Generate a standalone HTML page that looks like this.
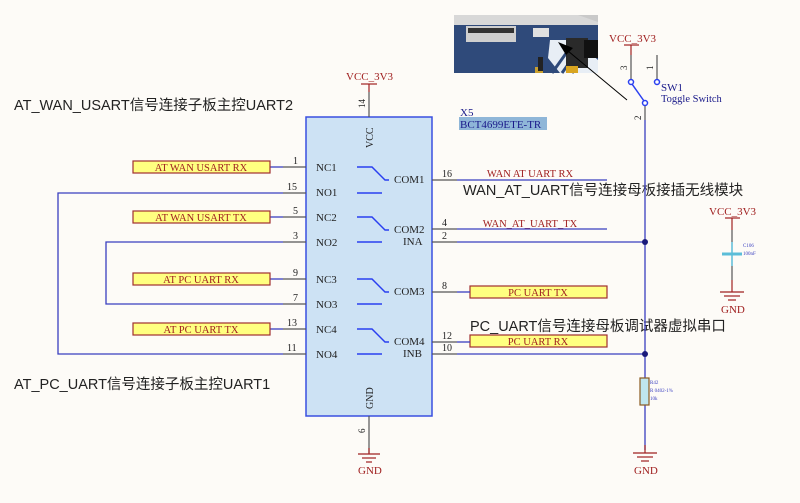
<!DOCTYPE html>
<html><head><meta charset="utf-8"><style>
html,body{margin:0;padding:0;background:#fdfbf7;}
svg{display:block;}
.s{font-family:"Liberation Serif","Noto Serif CJK SC",serif;}
.z{font-family:"Liberation Sans","Noto Sans CJK SC",sans-serif;}
</style></head><body>
<svg width="800" height="503" viewBox="0 0 800 503" xmlns="http://www.w3.org/2000/svg">
<rect width="800" height="503" fill="#fdfbf7"/>

<!-- photo -->
<g>
<rect x="454" y="15" width="144" height="58" fill="#2f4a7a"/>
<rect x="454" y="15" width="144" height="10" fill="#d8d8d8"/>
<polygon points="578,15 598,15 598,22" fill="#c9c9c9"/>
<rect x="466" y="26" width="50" height="16" fill="#cfcfcf"/>
<rect x="468" y="28" width="46" height="5" fill="#333"/>
<rect x="533" y="28" width="16" height="9" fill="#e0e0e0"/>
<polygon points="550,40 575,40 598,60 598,73 560,73 548,58" fill="#e8eef5"/>
<g stroke="#2f4a7a" stroke-width="3">
<line x1="552" y1="73" x2="572" y2="45"/><line x1="562" y1="73" x2="582" y2="45"/><line x1="572" y1="73" x2="592" y2="45"/>
</g>
<rect x="566" y="38" width="22" height="30" fill="#2a2a2a"/>
<rect x="584" y="40" width="14" height="18" fill="#111"/>
<rect x="566" y="66" width="12" height="7" fill="#d9a520"/>
<rect x="535" y="67" width="8" height="6" fill="#c9a030"/>
<rect x="538" y="57" width="5" height="14" fill="#222"/>
</g>
<line x1="627" y1="100" x2="562" y2="46" stroke="#000" stroke-width="1"/>
<polygon points="558,42 573,48 566,55" fill="#000"/>

<!-- texts -->
<text class="z" x="14" y="110" font-size="14.5" fill="#222">AT_WAN_USART信号连接子板主控UART2</text>
<text class="z" x="14" y="389" font-size="14.5" fill="#222">AT_PC_UART信号连接子板主控UART1</text>
<text class="z" x="463" y="195" font-size="14.5" fill="#222">WAN_AT_UART信号连接母板接插无线模块</text>
<text class="z" x="470" y="331" font-size="14.5" fill="#222">PC_UART信号连接母板调试器虚拟串口</text>

<!-- chip -->
<rect x="306" y="117" width="126" height="299" fill="#cde2f4" stroke="#3a4fe0" stroke-width="1.5"/>
<text class="s" x="460" y="116" font-size="11" fill="#1a1a8a">X5</text>
<rect x="459" y="117" width="88" height="13" fill="#8fb6d8"/>
<text class="s" x="460" y="128" font-size="11" fill="#1a1a8a">BCT4699ETE-TR</text>
<text class="s" x="0" y="0" font-size="10" fill="#222" transform="translate(373,148) rotate(-90)">VCC</text>
<text class="s" x="0" y="0" font-size="10" fill="#222" transform="translate(373,409) rotate(-90)">GND</text>

<!-- VCC top -->
<line x1="369" y1="92" x2="369" y2="117" stroke="#555" stroke-width="1.2"/>
<line x1="361" y1="84" x2="377" y2="84" stroke="#a02020" stroke-width="1.2"/>
<line x1="369" y1="84" x2="369" y2="92" stroke="#a02020" stroke-width="1.2"/>
<text class="s" x="346" y="80" font-size="11" fill="#a02020">VCC_3V3</text>
<text class="s" x="0" y="0" font-size="9" fill="#222" transform="translate(365,108) rotate(-90)">14</text>
<!-- GND bottom -->
<line x1="369" y1="416" x2="369" y2="453" stroke="#555" stroke-width="1.2"/>
<text class="s" x="0" y="0" font-size="9" fill="#222" transform="translate(365,433) rotate(-90)">6</text>
<g stroke="#a02020" stroke-width="1.2">
<line x1="369" y1="448" x2="369" y2="454"/>
<line x1="358" y1="454" x2="380" y2="454"/><line x1="362" y1="458" x2="376" y2="458"/><line x1="366" y1="462" x2="372" y2="462"/>
</g>
<text class="s" x="358" y="474" font-size="11" fill="#a02020">GND</text>

<!-- left pins -->
<g stroke="#555" stroke-width="1.2">
<line x1="283" y1="167" x2="306" y2="167"/><line x1="283" y1="193" x2="306" y2="193"/>
<line x1="283" y1="217" x2="306" y2="217"/><line x1="283" y1="242" x2="306" y2="242"/>
<line x1="283" y1="279" x2="306" y2="279"/><line x1="283" y1="304" x2="306" y2="304"/>
<line x1="283" y1="329" x2="306" y2="329"/><line x1="283" y1="354" x2="306" y2="354"/>
</g>
<g stroke="#3a3fc0" stroke-width="1.3" fill="none">
<line x1="270" y1="167" x2="283" y2="167"/><line x1="270" y1="217" x2="283" y2="217"/>
<line x1="270" y1="279" x2="283" y2="279"/><line x1="270" y1="329" x2="283" y2="329"/>
<polyline points="283,193 58,193 58,354 283,354"/>
<polyline points="283,242 106,242 106,304 283,304"/>
</g>
<g class="s" font-size="10" fill="#222">
<text x="293" y="164">1</text><text x="287" y="190">15</text><text x="293" y="214">5</text><text x="293" y="239">3</text>
<text x="293" y="276">9</text><text x="293" y="301">7</text><text x="287" y="326">13</text><text x="287" y="351">11</text>
</g>
<g class="s" font-size="11" fill="#222">
<text x="316" y="171">NC1</text><text x="316" y="196">NO1</text><text x="316" y="221">NC2</text><text x="316" y="246">NO2</text>
<text x="316" y="283">NC3</text><text x="316" y="308">NO3</text><text x="316" y="333">NC4</text><text x="316" y="358">NO4</text>
<text x="394" y="183">COM1</text><text x="394" y="233">COM2</text><text x="403" y="245">INA</text>
<text x="394" y="295">COM3</text><text x="394" y="345">COM4</text><text x="403" y="357">INB</text>
</g>
<!-- switches -->
<g stroke="#2a3ff0" stroke-width="1.5" fill="none">
<polyline points="357,167 372,167 385,180 389,180"/><line x1="357" y1="193" x2="382" y2="193"/>
<polyline points="357,217 372,217 385,230 389,230"/><line x1="357" y1="242" x2="382" y2="242"/>
<polyline points="357,279 372,279 385,292 389,292"/><line x1="357" y1="304" x2="382" y2="304"/>
<polyline points="357,329 372,329 385,342 389,342"/><line x1="357" y1="354" x2="382" y2="354"/>
</g>

<!-- left labels -->
<g stroke="#a03030" stroke-width="1.2" fill="#ffff80">
<rect x="133" y="161" width="137" height="12"/><rect x="133" y="211" width="137" height="12"/>
<rect x="133" y="273" width="137" height="12"/><rect x="133" y="323" width="137" height="12"/>
<rect x="470" y="286" width="137" height="12"/><rect x="470" y="335" width="137" height="12"/>
</g>
<g class="s" font-size="10.5" fill="#a02020" text-anchor="middle">
<text x="201" y="171">AT WAN USART RX</text><text x="201" y="221">AT WAN USART TX</text>
<text x="201" y="283">AT PC UART RX</text><text x="201" y="333">AT PC UART TX</text>
<text x="538" y="296">PC UART TX</text><text x="538" y="345">PC UART RX</text>
<text x="530" y="177">WAN AT UART RX</text><text x="530" y="227">WAN_AT_UART_TX</text>
</g>

<!-- right pins -->
<g stroke="#555" stroke-width="1.2">
<line x1="432" y1="180" x2="457" y2="180"/><line x1="432" y1="229" x2="457" y2="229"/>
<line x1="432" y1="242" x2="457" y2="242"/><line x1="432" y1="292" x2="457" y2="292"/>
<line x1="432" y1="342" x2="457" y2="342"/><line x1="432" y1="354" x2="457" y2="354"/>
</g>
<g stroke="#3a3fc0" stroke-width="1.3">
<line x1="457" y1="180" x2="607" y2="180"/><line x1="457" y1="229" x2="607" y2="229"/>
<line x1="457" y1="242" x2="645" y2="242"/><line x1="457" y1="292" x2="470" y2="292"/>
<line x1="457" y1="342" x2="470" y2="342"/><line x1="457" y1="354" x2="645" y2="354"/>
<line x1="645" y1="120" x2="645" y2="378"/><line x1="645" y1="405" x2="645" y2="450"/>
</g>
<circle cx="645" cy="242" r="3" fill="#1a1a7a"/><circle cx="645" cy="354" r="3" fill="#1a1a7a"/>
<g class="s" font-size="10" fill="#222">
<text x="442" y="177">16</text><text x="442" y="226">4</text><text x="442" y="239">2</text>
<text x="442" y="289">8</text><text x="442" y="339">12</text><text x="442" y="351">10</text>
</g>

<!-- resistor -->
<rect x="640" y="378" width="9" height="27" fill="#bfe6ee" stroke="#8a5a20" stroke-width="1.2"/>
<text class="s" x="650" y="384" font-size="5" fill="#3a3fc0">R42</text>
<text class="s" x="650" y="392" font-size="5" fill="#3a3fc0">R 0402-1%</text>
<text class="s" x="650" y="400" font-size="5" fill="#3a3fc0">10k</text>
<!-- gnd right -->
<g stroke="#a02020" stroke-width="1.2">
<line x1="645" y1="445" x2="645" y2="453"/>
<line x1="633" y1="453" x2="657" y2="453"/><line x1="637" y1="457" x2="653" y2="457"/><line x1="641" y1="461" x2="649" y2="461"/>
</g>
<text class="s" x="634" y="474" font-size="11" fill="#a02020">GND</text>

<!-- switch SW1 -->
<text class="s" x="609" y="42" font-size="11" fill="#a02020">VCC_3V3</text>
<line x1="624" y1="45" x2="639" y2="45" stroke="#a02020" stroke-width="1.2"/>
<line x1="631" y1="45" x2="631" y2="55" stroke="#a02020" stroke-width="1.2"/>
<line x1="631" y1="55" x2="631" y2="80" stroke="#555" stroke-width="1.2"/>
<line x1="657" y1="55" x2="657" y2="80" stroke="#555" stroke-width="1.2"/>
<line x1="645" y1="105" x2="645" y2="120" stroke="#555" stroke-width="1.2"/>
<text class="s" x="0" y="0" font-size="9" fill="#222" transform="translate(627,70) rotate(-90)">3</text>
<text class="s" x="0" y="0" font-size="9" fill="#222" transform="translate(653,70) rotate(-90)">1</text>
<text class="s" x="0" y="0" font-size="9" fill="#222" transform="translate(641,120) rotate(-90)">2</text>
<g stroke="#2a3ff0" stroke-width="1.5" fill="#fff">
<line x1="632" y1="84" x2="644" y2="101"/>
<circle cx="631" cy="82" r="2.5"/><circle cx="645" cy="103" r="2.5"/><circle cx="657" cy="82" r="2.5"/>
</g>
<text class="s" x="661" y="91" font-size="11" fill="#1a1a8a">SW1</text>
<text class="s" x="661" y="102" font-size="10.5" fill="#1a1a8a">Toggle Switch</text>

<!-- capacitor -->
<text class="s" x="709" y="215" font-size="11" fill="#a02020">VCC_3V3</text>
<line x1="725" y1="218" x2="740" y2="218" stroke="#a02020" stroke-width="1.2"/>
<line x1="732" y1="218" x2="732" y2="230" stroke="#a02020" stroke-width="1.2"/>
<line x1="732" y1="230" x2="732" y2="242" stroke="#555" stroke-width="1.2"/>
<line x1="732" y1="242" x2="732" y2="266" stroke="#5bbdd8" stroke-width="1.5"/>
<line x1="722" y1="254" x2="742" y2="254" stroke="#5bbdd8" stroke-width="3"/>
<line x1="732" y1="266" x2="732" y2="280" stroke="#555" stroke-width="1.2"/>
<line x1="732" y1="280" x2="732" y2="292" stroke="#a02020" stroke-width="1.2"/>
<text class="s" x="743" y="247" font-size="5" fill="#3a3fc0">C106</text>
<text class="s" x="743" y="255" font-size="5" fill="#3a3fc0">100nF</text>
<g stroke="#a02020" stroke-width="1.2">
<line x1="720" y1="292" x2="744" y2="292"/><line x1="724" y1="296" x2="740" y2="296"/><line x1="728" y1="300" x2="736" y2="300"/>
</g>
<text class="s" x="721" y="313" font-size="11" fill="#a02020">GND</text>
</svg>
</body></html>
